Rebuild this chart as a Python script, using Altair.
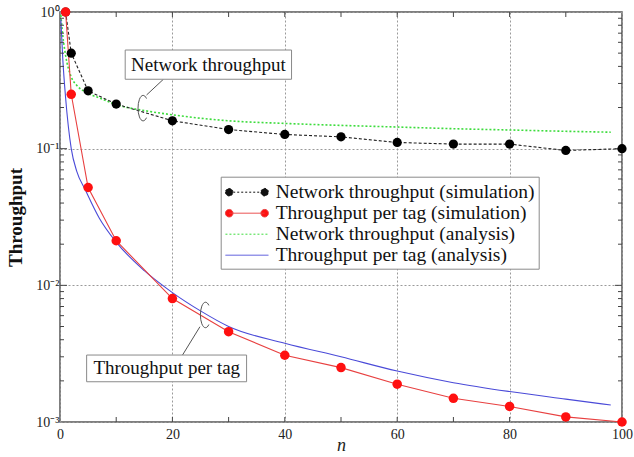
import altair as alt
import pandas as pd

SERIF = "Liberation Serif"

# ---- data ----
sim_n = [1, 2, 5, 10, 20, 30, 40, 50, 60, 70, 80, 90, 100]
net_sim = [1.0, 0.50, 0.265, 0.212, 0.160, 0.138, 0.127, 0.122, 0.111, 0.108, 0.108, 0.097, 0.100]
tag_sim = [1.0, 0.25, 0.052, 0.0212, 0.0080, 0.00458, 0.00308, 0.0025, 0.00189, 0.00149, 0.0013, 0.00109, 0.0010]

ana_n = [0.15, 0.5, 1, 2, 3, 4.5, 7, 10, 15, 20, 25, 30, 40, 50, 60, 70, 80, 90, 98]
net_ana = [0.95, 0.67, 0.48, 0.335, 0.29, 0.26, 0.235, 0.21, 0.19, 0.177, 0.167, 0.16, 0.153,
           0.148, 0.144, 0.14, 0.137, 0.134, 0.132]
tag_ana = [0.88, 0.45, 0.235, 0.10, 0.068, 0.050, 0.031, 0.0207, 0.0128, 0.00885, 0.0065, 0.0050,
           0.00377, 0.0030, 0.00236, 0.00194, 0.00167, 0.00147, 0.00133]

series_names = ["Network throughput (simulation)", "Throughput per tag (simulation)",
                "Network throughput (analysis)", "Throughput per tag (analysis)"]

x_ticks = [0, 20, 40, 60, 80, 100]
x_minor = [10, 20, 30, 40, 50, 60, 70, 80, 90]
y_ticks = [0.001, 0.01, 0.1, 1]
y_major_inner = [0.01, 0.1]
y_minor = [0.002, 0.003, 0.004, 0.005, 0.006, 0.007, 0.008, 0.009,
           0.02, 0.03, 0.04, 0.05, 0.06, 0.07, 0.08, 0.09,
           0.2, 0.3, 0.4, 0.5, 0.6, 0.7, 0.8, 0.9]

ann_labels = ["Network throughput", "Throughput per tag"]
ann_text_x = [26.4, 19.0]
ann_text_y = [0.4115, 0.00248]
box_x1 = [11.6, 4.74]
box_x2 = [41.2, 33.2]
box_y1 = [0.527, 0.00309]
box_y2 = [0.322, 0.00197]
lead_x1 = [18.4, 21.8]
lead_y1 = [0.322, 0.00309]
lead_x2 = [15.4, 24.9]
lead_y2 = [0.247, 0.00498]
ell_x = [14.8, 25.9]
ell_y = [0.198, 0.00607]

sim_df = pd.DataFrame({"n": sim_n, "net": net_sim, "tag": tag_sim})
ana_df = pd.DataFrame({"n": ana_n, "net": net_ana, "tag": tag_ana})
text_df = pd.DataFrame({"x": ann_text_x, "y": ann_text_y, "label": ann_labels})
box_df = pd.DataFrame({"x1": box_x1, "x2": box_x2, "y1": box_y1, "y2": box_y2})
lead_df = pd.DataFrame({"x1": lead_x1, "x2": lead_x2, "y1": lead_y1, "y2": lead_y2})
ell_df = pd.DataFrame({"x": ell_x, "y": ell_y})
legend_df = pd.DataFrame({"series": series_names})
yminor_df = pd.DataFrame({"v": y_minor})
ymajor_df = pd.DataFrame({"v": y_major_inner})
xminor_df = pd.DataFrame({"v": x_minor})

# ---- scales / axes ----
W, H = 562, 410
xs = alt.Scale(domain=[0, 100], nice=False, zero=False)
ys = alt.Scale(type="log", domain=[0.001, 1], nice=False)

x_main = alt.Axis(values=x_ticks, format="d", grid=True, gridDash=[2, 2], gridColor="#9a9a9a",
                  tickSize=0, domain=False, labelFont=SERIF, labelFontSize=14, labelPadding=5,
                  labelFlush=False, labelColor="#222",
                  title="n", titleFont=SERIF, titleFontStyle="italic", titleFontWeight="normal",
                  titleFontSize=18, titleX=W / 2, titleY=28, titleBaseline="alphabetic",
                  titleColor="#222")
y_main = alt.Axis(values=y_ticks, grid=True, gridDash=[2, 2], gridColor="#9a9a9a", tickSize=0,
                  domain=False, labelFont=SERIF, labelFontSize=14, labelPadding=1,
                  labelFlush=False, labelColor="#222",
                  labelExpr="datum.value >= 0.5 ? '10⁰' : datum.value >= 0.05 ? '10⁻¹' : datum.value >= 0.005 ? '10⁻²' : '10⁻³'",
                  title="Throughput", titleFont=SERIF, titleFontWeight="bold", titleFontSize=19,
                  titleX=-45, titleY=H / 2, titleAngle=-90, titleAlign="center",
                  titleBaseline="middle", titleColor="#111")

# ---- layers ----
green = alt.Chart(ana_df).mark_line(color="#3ddc3d", strokeDash=[2, 2], strokeWidth=1.6,
                                    interpolate="monotone").encode(
    x=alt.X("n:Q", scale=xs, axis=x_main),
    y=alt.Y("net:Q", scale=ys, axis=y_main),
)
blue = alt.Chart(ana_df).mark_line(color="#4a4ad8", strokeWidth=1.1, interpolate="monotone").encode(
    x=alt.X("n:Q", scale=xs, axis=None),
    y=alt.Y("tag:Q", scale=ys, axis=None),
)
black_line = alt.Chart(sim_df).mark_line(color="#222", strokeDash=[3, 2], strokeWidth=1.1).encode(
    x=alt.X("n:Q", scale=xs, axis=None),
    y=alt.Y("net:Q", scale=ys, axis=None),
)
red_line = alt.Chart(sim_df).mark_line(color="#e84040", strokeWidth=1.1).encode(
    x=alt.X("n:Q", scale=xs, axis=None),
    y=alt.Y("tag:Q", scale=ys, axis=None),
)
black_pts = alt.Chart(sim_df).mark_point(filled=True, size=85, opacity=1, color="black").encode(
    x=alt.X("n:Q", scale=xs, axis=None),
    y=alt.Y("net:Q", scale=ys, axis=None),
)
red_pts = alt.Chart(sim_df).mark_point(filled=True, size=90, opacity=1, color="#ff1010").encode(
    x=alt.X("n:Q", scale=xs, axis=None),
    y=alt.Y("tag:Q", scale=ys, axis=None),
)

# inner tick marks along the frame (clipped to the plot, so only the inner half shows)
tick_style = dict(color="#444", thickness=1, opacity=1, clip=True)
y_edge_ticks = []
for edge in (0, 100):
    y_edge_ticks.append(alt.Chart(yminor_df).mark_tick(orient="horizontal", size=8, **tick_style).encode(
        x=alt.XDatum(edge, type="quantitative", scale=xs, axis=None),
        y=alt.Y("v:Q", scale=ys, axis=None)))
    y_edge_ticks.append(alt.Chart(ymajor_df).mark_tick(orient="horizontal", size=14, **tick_style).encode(
        x=alt.XDatum(edge, type="quantitative", scale=xs, axis=None),
        y=alt.Y("v:Q", scale=ys, axis=None)))
x_edge_ticks = []
for edge in (1, 0.001):
    x_edge_ticks.append(alt.Chart(xminor_df).mark_tick(orient="vertical", size=10, **tick_style).encode(
        x=alt.X("v:Q", scale=xs, axis=None),
        y=alt.YDatum(edge, type="quantitative", scale=ys, axis=None)))

leads = alt.Chart(lead_df).mark_rule(color="#555", strokeWidth=1).encode(
    x=alt.X("x1:Q", scale=xs, axis=None), x2="x2:Q",
    y=alt.Y("y1:Q", scale=ys, axis=None), y2="y2:Q",
)
ell_path = "M 0.26,-0.75 A 0.4,1 0 1,0 0.26,0.75"
ells = alt.Chart(ell_df).mark_point(shape=ell_path, size=650, filled=False, opacity=1,
                                    color="#555", strokeWidth=1).encode(
    x=alt.X("x:Q", scale=xs, axis=None),
    y=alt.Y("y:Q", scale=ys, axis=None),
)
boxes = alt.Chart(box_df).mark_rect(fill="white", stroke="#8a8a8a", strokeWidth=1).encode(
    x=alt.X("x1:Q", scale=xs, axis=None), x2="x2:Q",
    y=alt.Y("y1:Q", scale=ys, axis=None), y2="y2:Q",
)
texts = alt.Chart(text_df).mark_text(font=SERIF, fontSize=19, color="#111", baseline="middle").encode(
    x=alt.X("x:Q", scale=xs, axis=None),
    y=alt.Y("y:Q", scale=ys, axis=None),
    text="label:N",
)

sim_path = ("M -1,0 A 0.35,0.35 0 1,0 -0.3,0 A 0.35,0.35 0 1,0 -1,0 Z "
            "M 2.3,0 A 0.35,0.35 0 1,0 3,0 A 0.35,0.35 0 1,0 2.3,0 Z "
            "M -0.65,0 L 2.65,0")
ana_path = "M -1,0 L 3,0"
leg = dict(title=None, orient="none", legendX=160.7, legendY=164.7, labelFont=SERIF,
           labelFontSize=19.5, labelColor="#111", symbolSize=462, symbolStrokeWidth=1,
           labelOffset=28, rowPadding=-1.5, padding=4, fillColor="white", strokeColor="#8a8a8a",
           labelLimit=400)
legend_layer = alt.Chart(legend_df).transform_filter("false").mark_point(opacity=1).encode(
    stroke=alt.Stroke("series:N", scale=alt.Scale(domain=series_names,
                      range=["#111", "#e84040", "#3ddc3d", "#4a4ad8"]), legend=alt.Legend(**leg)),
    fill=alt.Fill("series:N", scale=alt.Scale(domain=series_names,
                  range=["#111", "#ff1010", "transparent", "transparent"]), legend=alt.Legend(**leg)),
    shape=alt.Shape("series:N", scale=alt.Scale(domain=series_names,
                    range=[sim_path, sim_path, ana_path, ana_path]), legend=alt.Legend(**leg)),
    strokeDash=alt.StrokeDash("series:N", scale=alt.Scale(domain=series_names,
                              range=[[2, 2], [1, 0], [2, 2], [1, 0]]), legend=alt.Legend(**leg)),
)

chart = alt.layer(
    green, blue, black_line, red_line, *y_edge_ticks, *x_edge_ticks, black_pts, red_pts,
    leads, ells, boxes, texts, legend_layer
).resolve_axis(x="independent", y="independent").properties(
    width=W, height=H,
    autosize=alt.AutoSizeParams(type="none"),
    padding={"left": 60, "top": 12, "right": 12, "bottom": 35},
    background="white",
).configure_view(stroke="#555", strokeWidth=1.5)

chart.save("out.html", embed_options={"renderer": "svg", "actions": False})
